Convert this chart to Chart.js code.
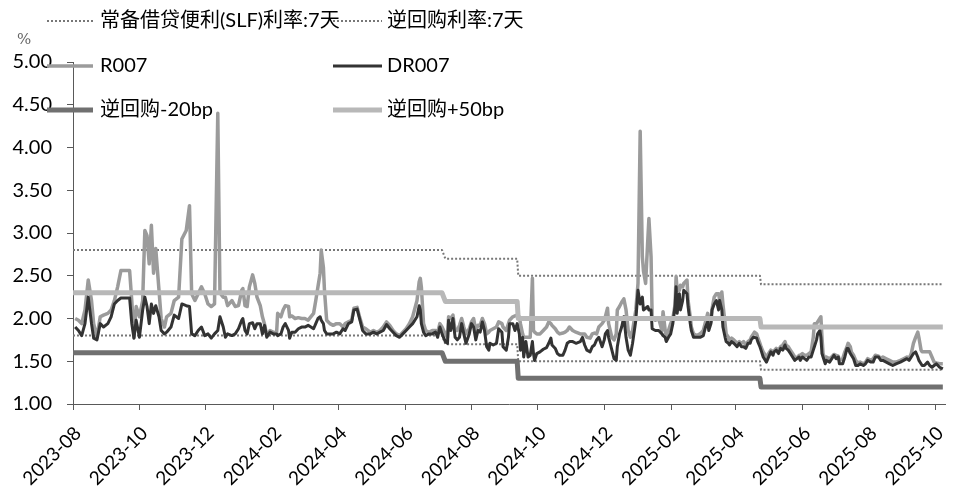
<!DOCTYPE html>
<html><head><meta charset="utf-8">
<script src="https://cdn.jsdelivr.net/npm/chart.js@4/dist/chart.umd.min.js"></script>
<style>html,body{margin:0;padding:0;background:#fff;}#wrap{width:953px;height:488px;position:relative;}</style>
</head><body><div id="wrap"><canvas id="c" width="953" height="488"></canvas></div>
<script>
// ---------------- DATA ----------------
const seriesNames = ['常备借贷便利(SLF)利率:7天','逆回购利率:7天','R007','DR007','逆回购-20bp','逆回购+50bp'];
const yUnit = '%';
const tickLabels = ['2023-08','2023-10','2023-12','2024-02','2024-04','2024-06','2024-08','2024-10','2024-12','2025-02','2025-04','2025-06','2025-08','2025-10'];
const axisStart = '2023-08-15';
const axisEnd = '2025-10-24';

const dates = [
'2023-08-17','2023-08-20','2023-08-23','2023-08-26','2023-08-29','2023-09-01','2023-09-03','2023-09-06','2023-09-09','2023-09-12',
'2023-09-16','2023-09-19','2023-09-22','2023-09-25','2023-09-28','2023-10-06','2023-10-08','2023-10-10','2023-10-12','2023-10-15',
'2023-10-18','2023-10-20','2023-10-22','2023-10-24','2023-10-26','2023-10-28','2023-10-30','2023-11-02','2023-11-04','2023-11-07',
'2023-11-09','2023-11-13','2023-11-16','2023-11-20','2023-11-23','2023-11-27','2023-11-30','2023-12-02','2023-12-05','2023-12-08',
'2023-12-11','2023-12-14','2023-12-17','2023-12-20','2023-12-23','2023-12-26','2023-12-28','2023-12-31',
'2024-01-02','2024-01-04','2024-01-08','2024-01-11','2024-01-14','2024-01-17','2024-01-18','2024-01-20','2024-01-22','2024-01-24',
'2024-01-27','2024-01-29','2024-01-31','2024-02-03','2024-02-05','2024-02-07','2024-02-09','2024-02-12','2024-02-15','2024-02-18',
'2024-02-19','2024-02-22','2024-02-24','2024-02-26','2024-02-29','2024-03-01','2024-03-03','2024-03-06','2024-03-09','2024-03-12',
'2024-03-15','2024-03-18','2024-03-23','2024-03-25','2024-03-27','2024-03-29','2024-03-30','2024-04-01','2024-04-02','2024-04-04',
'2024-04-07','2024-04-10','2024-04-13','2024-04-16','2024-04-19','2024-04-21','2024-04-24','2024-04-27','2024-04-29','2024-05-02',
'2024-05-04','2024-05-07','2024-05-10','2024-05-14','2024-05-17','2024-05-20','2024-05-23','2024-05-26','2024-05-29','2024-06-01',
'2024-06-04','2024-06-07','2024-06-10','2024-06-13','2024-06-16','2024-06-19','2024-06-22','2024-06-26','2024-06-28','2024-06-29',
'2024-06-30','2024-07-02','2024-07-04','2024-07-07','2024-07-10','2024-07-13','2024-07-15','2024-07-17','2024-07-19','2024-07-22',
'2024-07-24','2024-07-25','2024-07-27','2024-07-29','2024-07-31','2024-08-02','2024-08-04','2024-08-06','2024-08-08','2024-08-10',
'2024-08-13','2024-08-15','2024-08-17','2024-08-19','2024-08-21','2024-08-23','2024-08-25','2024-08-27','2024-08-29','2024-08-31',
'2024-09-01','2024-09-04','2024-09-07','2024-09-09','2024-09-12','2024-09-13','2024-09-16','2024-09-18','2024-09-19','2024-09-22',
'2024-09-24','2024-09-26','2024-09-28','2024-09-29','2024-10-01','2024-10-02','2024-10-04','2024-10-06','2024-10-08','2024-10-10',
'2024-10-11','2024-10-12','2024-10-14','2024-10-17','2024-10-20','2024-10-23','2024-10-25','2024-10-27','2024-10-28','2024-10-31',
'2024-11-02','2024-11-04','2024-11-07','2024-11-09','2024-11-11','2024-11-13','2024-11-16','2024-11-19','2024-11-23','2024-11-25',
'2024-11-27','2024-11-29','2024-12-02','2024-12-04','2024-12-06','2024-12-08','2024-12-10','2024-12-13','2024-12-15','2024-12-16',
'2024-12-18','2024-12-19','2024-12-22','2024-12-24','2024-12-26','2024-12-27','2024-12-29','2024-12-31',
'2025-01-02','2025-01-04','2025-01-06','2025-01-08','2025-01-10','2025-01-13','2025-01-15','2025-01-17','2025-01-19','2025-01-20',
'2025-01-22','2025-01-24','2025-01-25','2025-01-27','2025-01-28','2025-01-31','2025-02-03','2025-02-06','2025-02-07','2025-02-09',
'2025-02-10','2025-02-12','2025-02-14','2025-02-16','2025-02-18','2025-02-19','2025-02-20','2025-02-22','2025-02-23','2025-02-25',
'2025-02-26','2025-03-01','2025-03-02','2025-03-04','2025-03-05','2025-03-07','2025-03-10','2025-03-13','2025-03-16','2025-03-18',
'2025-03-20','2025-03-21','2025-03-23','2025-03-24','2025-03-26','2025-03-28','2025-03-30','2025-03-31','2025-04-02','2025-04-03',
'2025-04-05','2025-04-06','2025-04-08','2025-04-09','2025-04-11','2025-04-13','2025-04-16','2025-04-18','2025-04-20','2025-04-22',
'2025-04-24','2025-04-26','2025-04-28','2025-04-29','2025-05-01','2025-05-02','2025-05-04','2025-05-05','2025-05-07','2025-05-08',
'2025-05-10','2025-05-12','2025-05-13','2025-05-15','2025-05-17','2025-05-19','2025-05-20','2025-05-22','2025-05-24','2025-05-26',
'2025-05-28','2025-05-30','2025-05-31','2025-06-02','2025-06-04','2025-06-06','2025-06-08','2025-06-10','2025-06-12','2025-06-13',
'2025-06-15','2025-06-17','2025-06-19','2025-06-21','2025-06-23','2025-06-25','2025-06-26','2025-06-28','2025-06-29','2025-07-01',
'2025-07-02','2025-07-03','2025-07-04','2025-07-06','2025-07-07','2025-07-10','2025-07-12','2025-07-14','2025-07-16','2025-07-18',
'2025-07-19','2025-07-22','2025-07-24','2025-07-26','2025-07-27','2025-07-29','2025-07-30','2025-08-01','2025-08-03','2025-08-05',
'2025-08-07','2025-08-10','2025-08-12','2025-08-14','2025-08-17','2025-08-19','2025-08-21','2025-08-24','2025-08-26','2025-08-28',
'2025-08-31','2025-09-03','2025-09-06','2025-09-09','2025-09-13','2025-09-16','2025-09-19','2025-09-21','2025-09-23','2025-09-25',
'2025-09-27','2025-09-29','2025-09-30','2025-10-02','2025-10-03','2025-10-05','2025-10-08','2025-10-10','2025-10-12','2025-10-14',
'2025-10-16','2025-10-19','2025-10-22'
];

const r007 = [
2.00,1.98,1.94,2.10,2.45,2.21,1.94,1.78,2.02,2.04,
2.06,2.10,2.21,2.37,2.56,2.56,2.21,1.78,2.14,2.02,
2.21,3.03,2.97,2.64,3.09,2.53,2.82,2.33,2.00,1.90,
2.02,2.06,2.21,2.25,2.93,3.03,3.32,2.29,2.21,2.29,
2.37,2.29,2.17,2.14,2.17,4.40,2.30,2.25,
2.25,2.15,2.21,2.14,2.15,2.33,2.35,2.15,2.14,2.37,
2.51,2.41,2.25,2.15,2.02,1.93,1.80,1.86,1.84,1.83,
2.06,2.02,2.10,2.15,2.14,2.02,2.03,2.00,2.01,2.00,
2.00,1.98,2.06,2.21,2.37,2.53,2.80,2.60,2.33,1.98,
1.94,1.92,1.94,1.94,1.90,1.94,1.96,1.98,2.12,2.13,
2.03,1.90,1.88,1.84,1.86,1.84,1.86,1.90,1.96,1.92,
1.86,1.82,1.80,1.84,1.88,1.94,2.02,2.21,2.43,2.47,
2.37,1.94,1.86,1.84,1.86,1.86,1.84,1.94,1.90,1.82,
1.78,2.02,2.00,2.04,1.86,1.86,1.92,2.00,1.90,1.82,
1.88,1.96,2.00,1.86,1.92,1.92,2.00,1.94,1.82,1.84,
1.86,1.88,1.90,1.96,1.94,1.90,1.86,1.94,1.98,2.02,
2.03,2.04,2.02,1.94,1.82,1.78,1.78,1.78,1.78,2.47,
1.86,1.84,1.82,1.82,1.86,1.90,1.96,1.94,1.92,1.88,
1.84,1.82,1.83,1.84,1.86,1.90,1.86,1.84,1.82,1.82,
1.82,1.78,1.77,1.82,1.83,1.82,1.90,1.94,1.98,2.02,
2.12,1.94,1.78,1.75,1.82,2.10,2.14,2.19,
2.23,2.10,1.86,1.78,1.86,2.10,2.41,4.19,2.72,2.56,
2.41,2.92,3.17,2.72,2.02,1.98,2.00,1.86,2.08,1.86,
1.75,1.86,1.94,2.00,2.16,2.49,2.33,2.33,2.39,2.37,
2.41,2.45,2.21,2.02,1.90,1.82,1.80,1.82,1.86,1.96,
2.06,1.98,1.96,2.11,2.25,2.29,2.29,2.22,2.31,2.17,
1.94,1.82,1.78,1.73,1.77,1.75,1.71,1.73,1.71,1.73,
1.69,1.73,1.75,1.78,1.82,1.84,1.82,1.78,1.71,1.67,
1.61,1.57,1.53,1.59,1.63,1.61,1.62,1.65,1.63,1.67,
1.69,1.73,1.69,1.67,1.63,1.59,1.55,1.54,1.57,1.57,
1.59,1.57,1.57,1.59,1.61,1.78,1.94,1.94,1.96,2.00,
2.02,1.78,1.59,1.51,1.55,1.53,1.55,1.58,1.57,1.56,
1.51,1.53,1.61,1.67,1.71,1.67,1.61,1.57,1.51,1.48,
1.49,1.47,1.49,1.53,1.51,1.53,1.57,1.56,1.53,1.55,
1.53,1.51,1.49,1.49,1.51,1.53,1.55,1.53,1.59,1.71,
1.78,1.84,1.78,1.63,1.61,1.61,1.61,1.61,1.55,1.49,
1.48,1.47,1.47
];

const dr007 = [
1.90,1.86,1.80,1.94,2.25,1.94,1.77,1.75,1.94,1.90,
1.94,2.02,2.17,2.21,2.24,2.24,1.94,1.77,1.98,1.78,
2.10,2.25,2.14,1.94,2.17,2.06,2.15,2.02,1.86,1.82,
1.84,1.90,2.04,2.00,2.17,2.15,2.14,1.82,1.80,1.86,
1.90,1.80,1.82,1.77,1.82,1.86,2.02,1.90,
1.78,1.82,1.80,1.82,1.88,1.98,2.00,1.86,1.82,1.94,
1.95,1.88,1.94,1.94,1.82,1.92,1.78,1.84,1.82,1.82,
1.80,1.82,1.90,1.94,1.86,1.77,1.84,1.84,1.88,1.90,
1.90,1.92,1.88,1.94,2.00,2.02,1.98,1.94,1.86,1.82,
1.82,1.82,1.84,1.82,1.88,1.86,1.94,1.96,2.10,2.11,
2.01,1.86,1.82,1.82,1.84,1.82,1.84,1.86,1.93,1.88,
1.84,1.80,1.78,1.82,1.86,1.90,1.94,2.02,2.15,2.10,
1.94,1.84,1.80,1.82,1.82,1.84,1.78,1.90,1.82,1.73,
1.71,1.98,1.86,2.00,1.78,1.75,1.78,1.94,1.82,1.71,
1.82,1.94,1.90,1.75,1.86,1.84,1.96,1.86,1.67,1.63,
1.71,1.69,1.71,1.88,1.84,1.67,1.63,1.78,1.94,1.94,
1.86,1.94,1.82,1.63,1.78,1.55,1.73,1.55,1.57,1.73,
1.59,1.51,1.59,1.61,1.64,1.66,1.71,1.77,1.69,1.65,
1.59,1.57,1.57,1.63,1.71,1.73,1.73,1.71,1.73,1.78,
1.69,1.63,1.61,1.67,1.69,1.75,1.78,1.67,1.75,1.82,
1.86,1.78,1.63,1.53,1.51,1.67,1.82,1.90,
2.02,1.78,1.63,1.57,1.71,1.98,2.33,2.17,2.25,2.10,
2.12,2.14,2.10,2.10,1.88,1.86,1.86,1.82,1.80,1.78,
1.73,1.78,1.82,1.94,2.14,2.37,2.06,2.29,2.10,2.21,
2.33,2.29,2.14,1.94,1.86,1.78,1.78,1.78,1.80,1.90,
1.96,1.86,1.94,2.10,2.17,2.21,2.10,2.21,2.10,1.90,
1.78,1.73,1.71,1.69,1.73,1.71,1.67,1.71,1.67,1.67,
1.65,1.71,1.71,1.75,1.78,1.78,1.77,1.73,1.67,1.63,
1.55,1.51,1.49,1.55,1.61,1.57,1.61,1.63,1.59,1.65,
1.63,1.69,1.65,1.63,1.59,1.55,1.51,1.53,1.55,1.51,
1.55,1.53,1.51,1.55,1.55,1.63,1.67,1.75,1.82,1.86,
1.78,1.59,1.55,1.47,1.51,1.49,1.53,1.57,1.53,1.55,
1.47,1.47,1.55,1.65,1.65,1.59,1.57,1.53,1.45,1.45,
1.47,1.45,1.47,1.51,1.49,1.49,1.55,1.55,1.51,1.51,
1.49,1.47,1.45,1.47,1.49,1.51,1.53,1.51,1.55,1.59,
1.61,1.55,1.51,1.47,1.45,1.45,1.49,1.45,1.43,1.45,
1.47,1.43,1.41
];

const policyDates = ['2023-08-15','2024-07-19','2024-07-22','2024-09-26','2024-09-27','2025-05-07','2025-05-08','2025-10-22'];
const slf7d         = [2.80,2.80,2.70,2.70,2.50,2.50,2.40,2.40];
const reverseRepo7d = [1.80,1.80,1.70,1.70,1.50,1.50,1.40,1.40];
const rrMinus20bp   = [1.60,1.60,1.50,1.50,1.30,1.30,1.20,1.20];
const rrPlus50bp    = [2.30,2.30,2.20,2.20,2.00,2.00,1.90,1.90];

// ---------------- helpers ----------------
const base = Date.UTC(2023, 7, 15);
function dayOf(s){ const p = s.split('-').map(Number); return (Date.UTC(p[0], p[1]-1, p[2] || 15) - base) / 86400000; }
function pts(ds, vs){ return ds.map((d,i)=>({x: dayOf(d), y: vs[i]})); }

const FONT = 'Lato, "Noto Sans CJK SC", sans-serif';
const AXIS = '#595959';

const legendPlugin = {
  id: 'customLegend',
  afterDraw(chart){
    const ctx = chart.ctx;
    const slots = [
      {ds:0, x1:47, x2:93, tx:100, y:21},
      {ds:1, x1:333, x2:382, tx:387, y:21},
      {ds:2, x1:47, x2:93, tx:100, y:66},
      {ds:3, x1:333, x2:382, tx:387, y:66},
      {ds:4, x1:47, x2:93, tx:100, y:110},
      {ds:5, x1:333, x2:382, tx:387, y:110}
    ];
    ctx.save();
    slots.forEach(s=>{
      const d = chart.data.datasets[s.ds];
      ctx.beginPath();
      ctx.strokeStyle = d.borderColor;
      ctx.lineWidth = d.borderWidth;
      ctx.setLineDash(d.borderDash || []);
      ctx.lineCap = 'butt';
      ctx.moveTo(s.x1, s.y); ctx.lineTo(s.x2, s.y);
      ctx.stroke();
      ctx.setLineDash([]);
      ctx.fillStyle = '#000';
      ctx.font = '20px ' + FONT;
      ctx.textBaseline = 'middle';
      ctx.textAlign = 'left';
      ctx.fillText(d.label, s.tx, s.y);
    });
    ctx.fillStyle = '#666';
    ctx.font = '15px "DejaVu Serif", serif';
    ctx.textBaseline = 'middle';
    ctx.fillText(yUnit, 17, 40);
    ctx.restore();
  }
};

const styles = [
  {color:'#777777', width:2, dash:[2,2], order:6},
  {color:'#777777', width:2, dash:[2,2], order:5},
  {color:'#9b9b9b', width:3.5, dash:[], order:4},
  {color:'#333333', width:3, dash:[], order:3},
  {color:'#707070', width:5, dash:[], order:2},
  {color:'#b8b8b8', width:5, dash:[], order:1}
];
const seriesData = [
  pts(policyDates, slf7d),
  pts(policyDates, reverseRepo7d),
  pts(dates, r007),
  pts(dates, dr007),
  pts(policyDates, rrMinus20bp),
  pts(policyDates, rrPlus50bp)
];

new Chart(document.getElementById('c'), {
  type: 'line',
  data: {
    datasets: seriesNames.map((n,i)=>({
      label: n,
      data: seriesData[i],
      borderColor: styles[i].color,
      borderWidth: styles[i].width,
      borderDash: styles[i].dash,
      order: styles[i].order,
      pointRadius: 0,
      tension: 0,
      fill: false,
      borderJoinStyle: 'round'
    }))
  },
  options: {
    responsive: false,
    animation: false,
    layout: {padding: {top: 62, right: 8, left: 0, bottom: 0}},
    plugins: {legend: {display:false}, tooltip: {enabled:false}},
    scales: {
      x: {
        type: 'linear',
        min: dayOf(axisStart),
        max: dayOf(axisEnd),
        afterBuildTicks(scale){ scale.ticks = tickLabels.map(l=>({value: dayOf(l + '-15')})); },
        afterFit(scale){ scale.height = 84; scale.paddingLeft = 0; scale.paddingRight = 0; },
        ticks: {
          autoSkip: false, minRotation: 45, maxRotation: 45, padding: 12, labelOffset: 5,
          color: '#000', font: {family: FONT, size: 19},
          callback: (v, i) => tickLabels[i]
        },
        grid: {drawOnChartArea: false, drawTicks: true, tickLength: 6, color: AXIS},
        border: {display: true, color: AXIS, width: 1}
      },
      y: {
        min: 1, max: 5,
        afterBuildTicks(scale){ const t=[]; for(let v=1; v<=5.0001; v+=0.5) t.push({value: Math.round(v*100)/100}); scale.ticks = t; },
        afterFit(scale){ scale.width = 73; },
        ticks: {
          padding: 15, color: '#000', font: {family: FONT, size: 20},
          callback: v => Number(v).toFixed(2)
        },
        grid: {drawOnChartArea: false, drawTicks: true, tickLength: 6, color: AXIS},
        border: {display: true, color: AXIS, width: 1}
      }
    }
  },
  plugins: [legendPlugin]
});
</script>
</body></html>
